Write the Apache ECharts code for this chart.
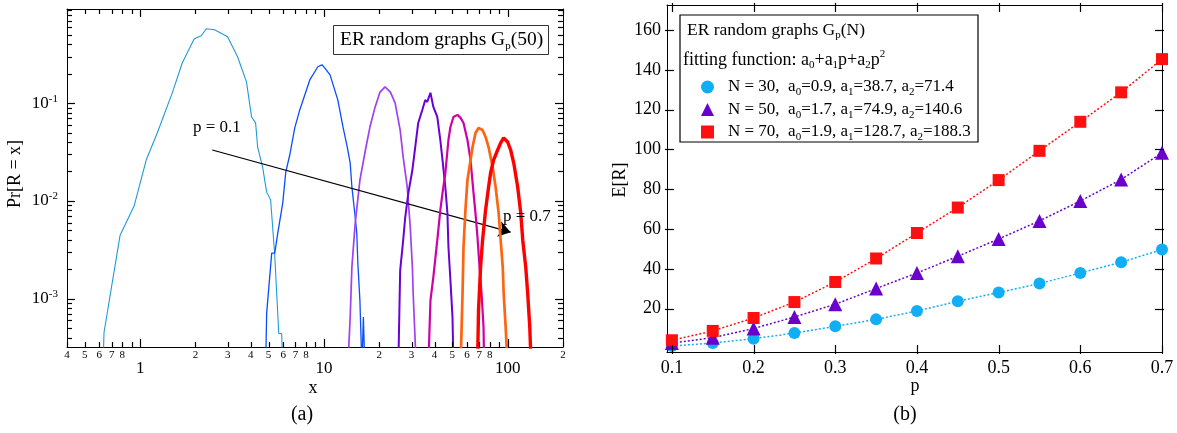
<!DOCTYPE html>
<html><head><meta charset="utf-8">
<script src="https://cdn.jsdelivr.net/npm/echarts@6/dist/echarts.min.js"></script>
<style>html,body{margin:0;padding:0;background:#fff}#c{width:1177px;height:433px}</style>
</head><body><div id="c"></div><script>
// ---------------- DATA: panel (a) ----------------
const curveNames = ['p = 0.1','p = 0.2','p = 0.3','p = 0.4','p = 0.5','p = 0.6','p = 0.7'];
// [x, Pr[R=x]] pairs (2e-4 = runs below the bottom of the axis)
const curveP01 = [[0.628,2e-4],[0.636,4.5e-4],[0.778,4.46e-3],[0.927,8.85e-3],[1.079,0.0262],[1.239,0.0495],[1.496,0.1276],[1.697,0.259],[1.97,0.456],[2.15,0.49],[2.29,0.578],[2.54,0.565],[2.99,0.479],[3.39,0.299],[3.79,0.165],[4.04,0.0723],[4.25,0.0628],[4.36,0.0356],[4.64,0.0222],[4.88,0.0123],[5.13,0.0102],[5.40,2.78e-3],[5.68,4.4e-4],[5.89,4.4e-4],[5.97,2e-4]];
const curveP02 = [[4.82,2e-4],[4.88,7.06e-4],[5.20,2.92e-3],[5.40,2.92e-3],[5.61,4.68e-3],[5.97,9.5e-3],[6.20,0.0197],[6.52,0.0295],[6.94,0.0558],[7.39,0.0853],[8.38,0.173],[9.27,0.236],[9.75,0.247],[10.1,0.23],[10.8,0.195],[11.9,0.108],[12.7,0.0571],[13.4,0.0356],[13.9,0.0244],[14.2,0.0139],[14.8,6.8e-3],[15.1,4.68e-3],[15.3,2.3e-3],[15.7,9.6e-4],[16.1,2e-4],[16.4,6.5e-4],[16.7,2e-4]];
const curveP03 = [[13.5,2e-4],[13.9,6.5e-4],[14.2,2.1e-3],[14.8,5.9e-3],[15.7,0.0163],[16.7,0.0309],[17.8,0.057],[19.0,0.0916],[20.2,0.13],[21.5,0.147],[23.0,0.13],[24.4,0.1007],[26.0,0.053],[27.0,0.0281],[28.4,0.0139],[29.5,5.4e-3],[30.3,2.1e-3],[30.6,1.13e-3],[31.8,2e-4]];
const curveP04 = [[25.4,2e-4],[26.0,1.95e-3],[27.0,3.96e-3],[27.7,6.8e-3],[28.8,0.012],[30.3,0.0207],[31.4,0.0356],[32.6,0.0628],[34.3,0.0853],[35.6,0.108],[36.5,0.103],[38.0,0.128],[39.4,0.0916],[41.4,0.0723],[43.0,0.042],[44.2,0.0262],[45.8,0.0138],[47.0,7.5e-3],[47.6,3.4e-3],[48.8,1.54e-3],[50.1,6.4e-4],[50.7,2e-4]];
const curveP05 = [[37.0,2e-4],[38.0,9.6e-4],[39.4,1.66e-3],[41.4,3.96e-3],[43.0,8.05e-3],[44.2,0.012],[45.8,0.0193],[47.6,0.042],[48.8,0.0571],[50.7,0.0723],[53.3,0.0759],[55.4,0.0707],[57.5,0.0627],[60.4,0.042],[62.8,0.0262],[65.2,0.012],[66.8,7.5e-3],[68.5,4.26e-3],[70.3,2.1e-3],[72.1,1.13e-3],[73.9,5.1e-4],[74.5,2e-4]];
const curveP06 = [[55.4,2e-4],[56.8,1.13e-3],[57.5,3.36e-3],[58.9,8.05e-3],[60.4,0.0163],[62.8,0.0262],[64.4,0.0356],[66.8,0.0495],[69.4,0.0558],[73.0,0.0532],[75.8,0.0451],[78.7,0.0356],[82.8,0.0222],[86.0,0.0138],[89.3,7.5e-3],[91.6,3.96e-3],[94.0,2.1e-3],[95.1,1.13e-3],[97.5,5.1e-4],[100,2e-4]];
const curveP07 = [[68.5,2e-4],[69.4,7.6e-4],[71.2,2.1e-3],[73.0,3.96e-3],[75.8,8.05e-3],[78.7,0.0138],[80.7,0.0193],[83.8,0.0262],[88.2,0.0332],[91.6,0.0392],[95.1,0.0441],[100,0.0401],[103.8,0.0332],[107.9,0.0244],[113.4,0.0138],[117.8,7.5e-3],[120.8,3.96e-3],[125.4,2.1e-3],[128.5,1.13e-3],[131.9,5.1e-4],[134.3,2e-4]];
const arrowFrom = [2.47, 0.0332];
const arrowTo = [103.8, 4.79e-3];
const xRangeA = [0.4, 200];
const yRangeA = [3.2e-4, 0.92];
const xMinorTickLabels = [0.4,0.5,0.6,0.7,0.8,2,3,4,5,6,7,8,20,30,40,50,60,70,80,200];
const xMajorTickLabels = [1,10,100];
const yMajorTickLabels = [0.1,0.01,0.001];

// ---------------- DATA: panel (b) ----------------
const pValues = [0.1,0.15,0.2,0.25,0.3,0.35,0.4,0.45,0.5,0.55,0.6,0.65,0.7];
const er30 = [1.2,2.7,4.9,7.7,11.1,14.6,18.8,23.7,28.1,32.6,37.9,43.3,49.7];
const er50 = [2.7,5.4,10.0,15.8,22.2,30.1,37.9,46.3,55.0,64.1,74.1,84.9,98.3];
const er70 = [4.1,8.8,15.3,23.3,33.4,45.2,58.0,70.8,84.6,99.3,113.9,128.7,145.4];
const seriesNamesB = ['N = 30','N = 50','N = 70'];
const fitA0 = ['0.9','1.7','1.9'];
const fitA1 = ['38.7','74.9','128.7'];
const fitA2 = ['71.4','140.6','188.3'];
const xRangeB = [0.094, 0.7];
const yRangeB = [-1.8, 172.6];
const xTickLabelsB = [0.1,0.2,0.3,0.4,0.5,0.6,0.7];
const yTickLabelsB = [20,40,60,80,100,120,140,160];

// ---------------- STYLE / LAYOUT ----------------
const FONT = 'Liberation Serif';
const curveColors = ['#1f9ad8','#0a4cff','#a040f0','#6a00d6','#d000a8','#ff6410','#ff0000'];
const curveWidths = [1.1,1.3,1.7,2,2.2,2.7,3.4];
const colorsB = ['#12aef5','#6a00cc','#ff1010'];
const symbolsB = ['circle','triangle','rect'];
const gridA = {left:67, top:9, width:496, height:338};
const gridB = {left:667, top:5, width:495, height:347};

const L = Math.log10;
const curves = [curveP01,curveP02,curveP03,curveP04,curveP05,curveP06,curveP07];

const minorTicksX = [];
for (let j=-1;j<=2;j++) for (let k=2;k<=9;k++){const v=k*Math.pow(10,j); if(v>=xRangeA[0]-1e-12&&v<=xRangeA[1]+1e-9) minorTicksX.push(L(v));}
const minorTicksY = [];
for (let j=-4;j<=-1;j++) for (let k=2;k<=9;k++){const v=k*Math.pow(10,j); if(v>=yRangeA[0]&&v<=yRangeA[1]) minorTicksY.push(L(v));}

const sub = {fontSize:11, lineHeight:10, verticalAlign:'bottom', fontFamily:FONT, color:'#000'};
const sup = {fontSize:11, lineHeight:10, verticalAlign:'top', fontFamily:FONT, color:'#000'};
const supHigh = {fontSize:11, lineHeight:2, verticalAlign:'top', fontFamily:FONT, color:'#000'};

function baseAxis(extra){
  return Object.assign({type:'value', splitLine:{show:false}, axisLine:{show:false,onZero:false},
    axisTick:{show:false}, axisLabel:{show:false}, axisPointer:{show:false}}, extra);
}
const lineBlack = {show:true, onZero:false, lineStyle:{color:'#000', width:1}};

const xMinA = L(xRangeA[0]), xMaxA = L(xRangeA[1]);
const yMinA = L(yRangeA[0]), yMaxA = L(yRangeA[1]);

const xAxes = [
  baseAxis({gridIndex:0, position:'bottom', min:xMinA, max:xMaxA, axisLine:lineBlack,
    axisLabel:{show:true, margin:3, fontSize:11, fontFamily:FONT, color:'#000',
      customValues:xMinorTickLabels.map(L),
      formatter:v=>String(Math.round(Math.pow(10, v-Math.floor(v+1e-9))))}}),
  baseAxis({gridIndex:0, position:'bottom', min:xMinA, max:xMaxA,
    axisLabel:{show:true, margin:13, fontSize:17, fontFamily:FONT, color:'#000',
      customValues:xMajorTickLabels.map(L), formatter:v=>String(Math.round(Math.pow(10,v)))}}),
  baseAxis({gridIndex:0, position:'top', min:xMinA, max:xMaxA, axisLine:lineBlack}),
  baseAxis({gridIndex:1, position:'bottom', min:xRangeB[0], max:xRangeB[1], axisLine:lineBlack,
    axisLabel:{show:true, margin:7, fontSize:18, fontFamily:FONT, color:'#000',
      customValues:xTickLabelsB, formatter:v=>v.toFixed(1)}}),
  baseAxis({gridIndex:1, position:'top', min:xRangeB[0], max:xRangeB[1], axisLine:lineBlack})
];
const yAxes = [
  baseAxis({gridIndex:0, position:'left', min:yMinA, max:yMaxA, axisLine:lineBlack,
    axisLabel:{show:true, margin:9, fontSize:17, fontFamily:FONT, color:'#000', lineHeight:20,
      customValues:yMajorTickLabels.map(L), formatter:v=>'{b|10}{sup|'+Math.round(v)+'}',
      rich:{b:{fontSize:17, fontFamily:FONT, color:'#000', lineHeight:20}, sup:sup}}}),
  baseAxis({gridIndex:0, position:'right', min:yMinA, max:yMaxA, axisLine:lineBlack}),
  baseAxis({gridIndex:1, position:'left', min:yRangeB[0], max:yRangeB[1], axisLine:lineBlack,
    axisLabel:{show:true, margin:6, fontSize:18, fontFamily:FONT, color:'#000', customValues:yTickLabelsB}}),
  baseAxis({gridIndex:1, position:'right', min:yRangeB[0], max:yRangeB[1], axisLine:lineBlack})
];

const series = [];
curves.forEach((c,i)=>{
  const s = {type:'line', name:curveNames[i], xAxisIndex:0, yAxisIndex:0, symbol:'none', showSymbol:false,
    clip:true, z:2+i, silent:true, data:c.map(d=>[L(d[0]),L(d[1])]),
    lineStyle:{color:curveColors[i], width:curveWidths[i]}, itemStyle:{color:curveColors[i]}};
  if (i===0) {
    s.markLine = {silent:true, symbol:['none','arrow'], symbolSize:12, animation:false,
      label:{show:false}, lineStyle:{color:'#000', width:1.2, type:'solid'},
      emphasis:{disabled:true},
      data:[[{coord:[L(arrowFrom[0]),L(arrowFrom[1])]},{coord:[L(arrowTo[0]),L(arrowTo[1])]}]]};
  }
  series.push(s);
});
[er30,er50,er70].forEach((arr,i)=>{
  series.push({type:'line', name:seriesNamesB[i], xAxisIndex:3, yAxisIndex:2, symbol:symbolsB[i],
    symbolSize: i===1?14:12, showSymbol:true, showAllSymbol:true, clip:false, z:10+i,
    data:pValues.map((p,k)=>[p,arr[k]]),
    lineStyle:{color:colorsB[i], width:1.5, type:[2,2]}, itemStyle:{color:colorsB[i]}});
});

const titleText = {fontFamily:FONT, fontWeight:'normal', color:'#000', fontSize:17.5, lineHeight:22, rich:{sub:sub, sup:supHigh}};

const baseGraphic = [
  {type:'rect', z:100, shape:{x:680,y:15,width:298,height:127}, style:{fill:null, stroke:'#000', lineWidth:1.2}},
  {type:'text', z:100, x:193, y:128, style:{text:'p = 0.1', fontFamily:FONT, fontSize:17, fill:'#000', verticalAlign:'middle'}},
  {type:'text', z:100, x:503, y:217, style:{text:'p = 0.7', fontFamily:FONT, fontSize:17, fill:'#000', verticalAlign:'middle'}},
  {type:'text', z:100, x:313, y:388, style:{text:'x', fontFamily:FONT, fontSize:18, fill:'#000', align:'center', verticalAlign:'middle'}},
  {type:'text', z:100, x:15, y:174, rotation:Math.PI/2, style:{text:'Pr[R = x]', fontFamily:FONT, fontSize:18, fill:'#000', align:'center', verticalAlign:'middle'}},
  {type:'text', z:100, x:915, y:386, style:{text:'p', fontFamily:FONT, fontSize:18, fill:'#000', align:'center', verticalAlign:'middle'}},
  {type:'text', z:100, x:620, y:180, rotation:Math.PI/2, style:{text:'E[R]', fontFamily:FONT, fontSize:18, fill:'#000', align:'center', verticalAlign:'middle'}},
  {type:'text', z:100, x:302, y:415, style:{text:'(a)', fontFamily:FONT, fontSize:20, fill:'#000', align:'center', verticalAlign:'middle'}},
  {type:'text', z:100, x:905, y:415, style:{text:'(b)', fontFamily:FONT, fontSize:20, fill:'#000', align:'center', verticalAlign:'middle'}}
];

const option = {
  animation:false,
  backgroundColor:'#fff',
  grid:[
    Object.assign({outerBoundsMode:'none', containLabel:false}, gridA),
    Object.assign({outerBoundsMode:'none', containLabel:false}, gridB)
  ],
  xAxis:xAxes, yAxis:yAxes, series:series,
  title:[
    {left:333, top:25, text:'ER random graphs G{sub|p}(50)', padding:[3,6,3,7], borderWidth:1, borderColor:'#333',
      textStyle:Object.assign({}, titleText, {fontSize:19.5, lineHeight:24})},
    {left:687, top:19, padding:0, text:'ER random graphs G{sub|p}(N)', textStyle:titleText},
    {left:683, top:49, padding:0, text:'fitting function: a{sub|0}+a{sub|1}p+a{sub|2}p{sup|2}', textStyle:Object.assign({}, titleText, {fontSize:18})}
  ],
  legend:{
    orient:'vertical', left:696, top:71, itemWidth:13, itemHeight:13, itemGap:0.5, selectedMode:false,
    data:seriesNamesB.map((n,i)=>({name:n, icon:symbolsB[i]})),
    textStyle:{fontFamily:FONT, fontSize:17, color:'#000', lineHeight:22,
      rich:{t:{fontFamily:FONT, fontSize:17, color:'#000', lineHeight:22}, sub:sub, gap:{width:9, fontFamily:FONT, fontSize:17}}},
    formatter:name=>{const i=seriesNamesB.indexOf(name);
      return '{gap| }{t|'+name+',  a}{sub|0}{t|='+fitA0[i]+', a}{sub|1}{t|='+fitA1[i]+', a}{sub|2}{t|='+fitA2[i]+'}';}
  },
  graphic:baseGraphic
};
const chart = echarts.init(document.getElementById('c'), null, {renderer:'canvas'});
chart.setOption(option);

// ---- inward frame ticks (filled thin rects), positioned through the axes' value->pixel mapping ----
function toPx(finder, pt, g, xr, yr){
  let p = null;
  try { p = chart.convertToPixel(finder, pt); } catch(e) {}
  if (!p || !isFinite(p[0]) || !isFinite(p[1])) {
    p = [g.left + (pt[0]-xr[0])/(xr[1]-xr[0])*g.width, g.top + g.height - (pt[1]-yr[0])/(yr[1]-yr[0])*g.height];
  }
  return p;
}
function frameTicks(finder, g, xr, yr, xMajor, xMinor, yMajor, yMinor, majLen, minLen, outLen){
  const out = [];
  const W = 1.2;
  const rc = (x,y,w,h)=>out.push({type:'rect', z:120, silent:true,
    shape:{x:x,y:y,width:w,height:h}, style:{fill:'#000', stroke:null}});
  const vx = (v,len)=>{
    const b = toPx(finder,[v,yr[0]],g,xr,yr), t = toPx(finder,[v,yr[1]],g,xr,yr);
    const x = Math.round(b[0]) - W/2 + 0.5;
    rc(x, b[1]-len, W, len+outLen);
    rc(x, t[1]-outLen, W, len+outLen);
  };
  const vy = (v,len)=>{
    const l = toPx(finder,[xr[0],v],g,xr,yr), r = toPx(finder,[xr[1],v],g,xr,yr);
    const y = Math.round(l[1]) - W/2 + 0.5;
    rc(l[0]-outLen, y, len+outLen, W);
    rc(r[0]-len, y, len+outLen, W);
  };
  xMajor.forEach(v=>vx(v,majLen)); xMinor.forEach(v=>vx(v,minLen));
  yMajor.forEach(v=>vy(v,majLen)); yMinor.forEach(v=>vy(v,minLen));
  return out;
}
const ticks = frameTicks({xAxisIndex:0, yAxisIndex:0}, gridA, [xMinA,xMaxA], [yMinA,yMaxA],
    xMajorTickLabels.map(L), minorTicksX, yMajorTickLabels.map(L), minorTicksY, 8, 5, 0)
  .concat(frameTicks({xAxisIndex:3, yAxisIndex:2}, gridB, xRangeB, yRangeB,
    xTickLabelsB, [], yTickLabelsB, [], 7, 7, 2));
option.graphic = baseGraphic.concat(ticks);
chart.setOption(option);
</script></body></html>
